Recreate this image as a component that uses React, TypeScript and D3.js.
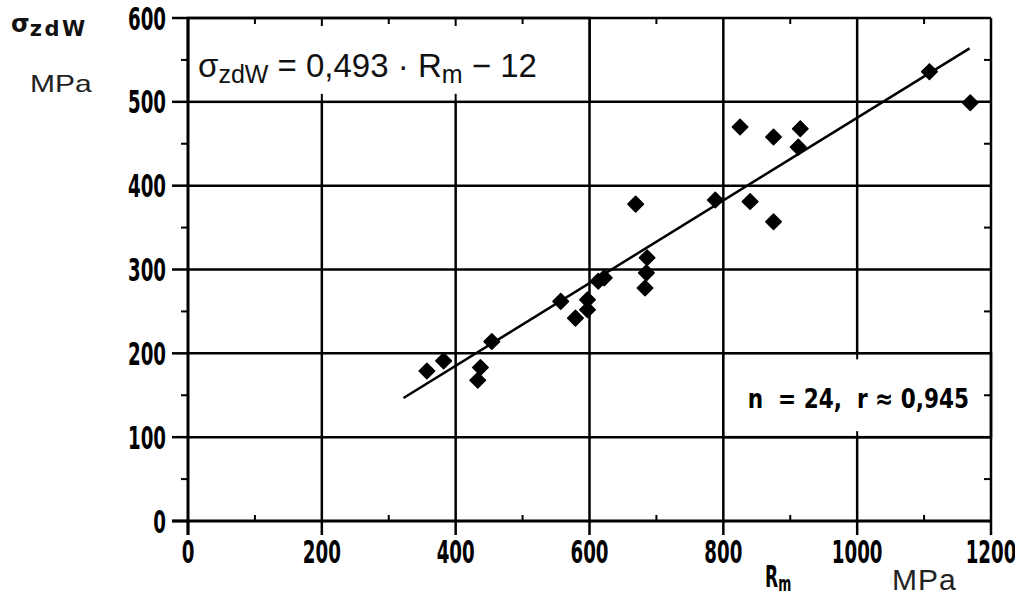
import React from 'react';
import * as d3 from 'd3';

// tensile strength R_m (MPa) vs fatigue strength sigma_zdW (MPa)
const rmValues = [357, 382, 437, 433, 454, 557, 579, 597, 597, 613, 622, 669, 683, 685, 686, 788, 825, 840, 875, 875, 915, 912, 1108, 1169];
const sigmaValues = [179, 191, 183, 168, 214, 262, 242, 264, 252, 286, 290, 378, 278, 296, 314, 383, 470, 381, 458, 357, 468, 446, 536, 499];

const xTicks = [0, 200, 400, 600, 800, 1000, 1200];
const yTicks = [0, 100, 200, 300, 400, 500, 600];
const xMinor = [100, 300, 500, 700, 900, 1100];
const yMinor = [50, 150, 250, 350, 450, 550];

const slope = 0.493;
const intercept = -12;
const fitRange = [322, 1168];

const width = 1015;
const height = 604;

// hand lettering: bold font squeezed horizontally
const hand = "'DejaVu Sans', sans-serif";
const sans = "'Liberation Sans', Arial, sans-serif";
const squeeze = 0.57;

const Hand = ({ x, y, anchor = 'start', size = 32, children }: any) => (
  <text
    transform={`translate(${x},${y}) scale(${squeeze},1)`}
    textAnchor={anchor}
    fontFamily={hand}
    fontWeight="bold"
    fontSize={size}
  >
    {children}
  </text>
);

const App = () => {
  const x = d3.scaleLinear().domain([0, 1200]).range([188, 991]);
  const y = d3.scaleLinear().domain([0, 600]).range([521, 18]);

  const line = d3
    .line<number>()
    .x((d) => x(d))
    .y((d) => y(slope * d + intercept));

  const diamond = d3.symbol().type(d3.symbolSquare).size(120)();

  const x0 = x(0);
  const x1 = x(1200);
  const y0 = y(0);
  const y1 = y(600);

  return (
    <svg width={width} height={height} style={{ position: 'absolute', left: 0, top: 0, background: '#fff' }}>
      {/* grid */}
      {xTicks.slice(1, -1).map((t) => (
        <line key={'gx' + t} x1={x(t)} x2={x(t)} y1={y0} y2={y1} stroke="#000" strokeWidth={2.5} />
      ))}
      {yTicks.slice(1, -1).map((t) => (
        <line key={'gy' + t} x1={x0} x2={x1} y1={y(t)} y2={y(t)} stroke="#000" strokeWidth={2.5} />
      ))}

      {/* equation box (covers grid) */}
      <rect x={x(0)} y={y(600)} width={x(600) - x(0)} height={y(500) - y(600)} fill="#fff" stroke="#000" strokeWidth={2.5} />
      {[200, 400].map((t) => (
        <g key={'eb' + t}>
          <line x1={x(t)} x2={x(t)} y1={y(600)} y2={y(600) + 8} stroke="#000" strokeWidth={2} />
          <line x1={x(t)} x2={x(t)} y1={y(500)} y2={y(500) - 8} stroke="#000" strokeWidth={2} />
        </g>
      ))}
      {/* n / r box */}
      <rect x={x(800)} y={y(200)} width={x(1200) - x(800)} height={y(100) - y(200)} fill="#fff" stroke="#000" strokeWidth={2.5} />
      <line x1={x(1000)} x2={x(1000)} y1={y(200)} y2={y(200) + 6} stroke="#000" strokeWidth={2} />
      <line x1={x(1000)} x2={x(1000)} y1={y(100)} y2={y(100) - 6} stroke="#000" strokeWidth={2} />

      {/* frame */}
      <line x1={x0} x2={x1} y1={y1} y2={y1} stroke="#000" strokeWidth={2.5} />
      <line x1={x1} x2={x1} y1={y1} y2={y0} stroke="#000" strokeWidth={2.5} />
      <line x1={x0 - 16} x2={x1} y1={y0} y2={y0} stroke="#000" strokeWidth={3} />
      <line x1={x0} x2={x0} y1={y1} y2={y0 + 14} stroke="#000" strokeWidth={3} />

      {/* major ticks */}
      {yTicks.map((t) => (
        <line key={'ty' + t} x1={x0 - 16} x2={x0} y1={y(t)} y2={y(t)} stroke="#000" strokeWidth={2.5} />
      ))}
      {xTicks.map((t) => (
        <line key={'tx' + t} x1={x(t)} x2={x(t)} y1={y0} y2={y0 + 14} stroke="#000" strokeWidth={2.5} />
      ))}
      {/* minor ticks */}
      {yMinor.map((t) => (
        <g key={'my' + t}>
          <line x1={x0 - 7} x2={x0} y1={y(t)} y2={y(t)} stroke="#000" strokeWidth={2} />
          <line x1={x1 - 7} x2={x1} y1={y(t)} y2={y(t)} stroke="#000" strokeWidth={2} />
        </g>
      ))}
      {xMinor.map((t) => (
        <g key={'mx' + t}>
          <line x1={x(t)} x2={x(t)} y1={y0} y2={y0 - 6} stroke="#000" strokeWidth={2} />
          <line x1={x(t)} x2={x(t)} y1={y1} y2={y1 + 6} stroke="#000" strokeWidth={2} />
        </g>
      ))}

      {/* tick labels */}
      {yTicks.map((t) => (
        <Hand key={'ly' + t} x={x0 - 22} y={y(t) + 11.5} anchor="end">
          {t}
        </Hand>
      ))}
      {xTicks.map((t) => (
        <Hand key={'lx' + t} x={x(t)} y={y0 + 42} anchor="middle">
          {t}
        </Hand>
      ))}

      {/* regression line */}
      <path d={line(fitRange) ?? ''} fill="none" stroke="#000" strokeWidth={2.5} />

      {/* points */}
      {rmValues.map((r, i) => (
        <path
          key={'p' + i}
          d={diamond ?? ''}
          transform={`translate(${x(r)},${y(sigmaValues[i])}) rotate(45)`}
          fill="#000"
          stroke="#000"
          strokeWidth={1.5}
          strokeLinejoin="round"
        />
      ))}

      {/* equation */}
      <text x={x(0) + 10} y={y(600) + 59} fontFamily={sans} fontSize={33} fill="#111">
        σ<tspan fontSize={25} dy={6}>zdW</tspan>
        <tspan dy={-6}>  =  </tspan>
        <tspan>0,493 · R</tspan>
        <tspan fontSize={25} dy={6}>m</tspan>
        <tspan dy={-6}>  − 12</tspan>
      </text>

      {/* n, r */}
      <text
        transform={`translate(${x(1200) - 22},${y(100) - 29}) scale(0.8,1)`}
        textAnchor="end"
        fontFamily={hand}
        fontWeight="bold"
        fontSize={27}
        style={{ whiteSpace: 'pre' }}
      >
        {'n  = 24,  r ≈ 0,945'}
      </text>

      {/* y axis title */}
      <text x={11} y={32} fontFamily={hand} fontWeight="bold" fontSize={24} fill="#111">
        σ<tspan fontSize={21} dy={4} letterSpacing={2.5}>zdW</tspan>
      </text>
      <text transform="translate(30,92) scale(1.25,1)" fontFamily={sans} fontSize={24} fill="#222">MPa</text>

      {/* x axis title */}
      <Hand x={765} y={587} size={30}>
        R<tspan fontSize={22} dy={4}>m</tspan>
      </Hand>
      <text x={892} y={590} fontFamily={sans} fontSize={30} letterSpacing={1} fill="#222">MPa</text>
    </svg>
  );
};

export default App;
